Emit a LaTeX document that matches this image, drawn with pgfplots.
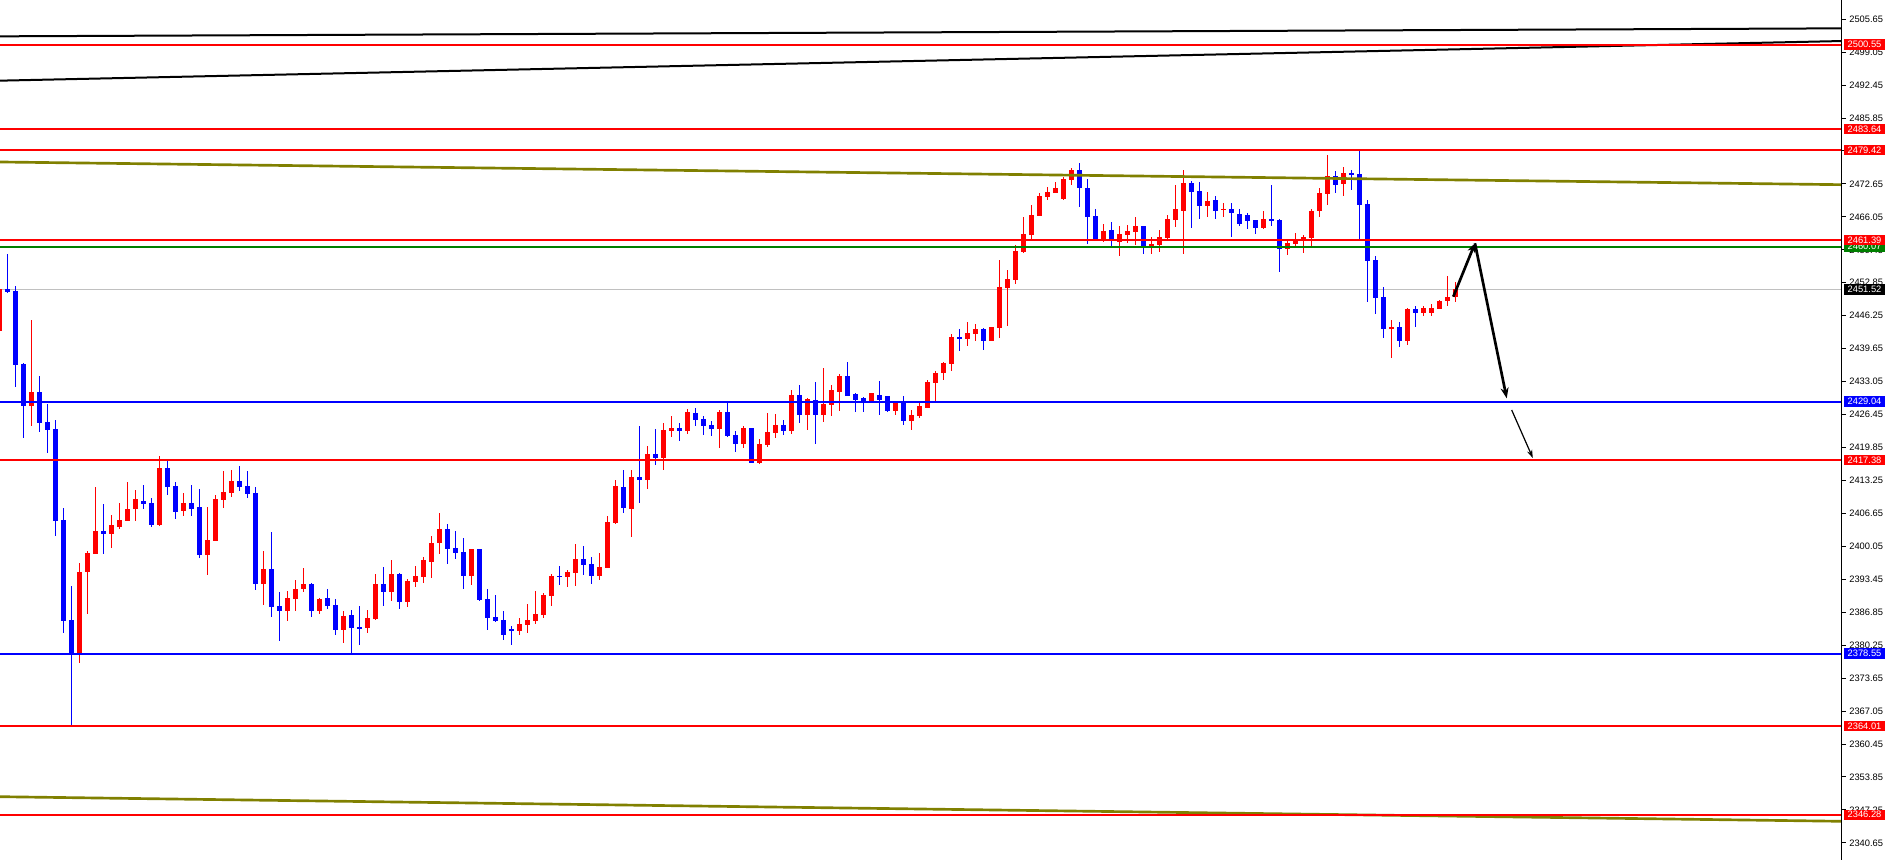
\documentclass[border=0pt]{standalone}
\usepackage{pgfplots}
\usepackage{pgfplotstable}
\pgfplotsset{compat=1.18}
\usetikzlibrary{arrows.meta}
\usepackage{fontspec}
\setmainfont{Liberation Sans}

\definecolor{mtred}{HTML}{FF0000}
\definecolor{mtblue}{HTML}{0000FF}
\definecolor{mtgreen}{HTML}{008000}
\definecolor{mtolive}{HTML}{808000}
\definecolor{mtgray}{HTML}{C0C0C0}

% red = rising candle, blue = falling candle
\pgfplotstableread{
i o h l c
-1 2443.26 2452.07 2442.50 2451.54
3 2428.23 2445.39 2424.23 2430.97
9 2378.29 2396.78 2376.76 2394.98
10 2394.98 2399.12 2386.44 2398.79
11 2398.59 2412.01 2398.59 2403.13
13 2402.60 2406.33 2399.79 2404.33
14 2404.00 2408.81 2403.46 2405.33
15 2405.20 2413.01 2405.20 2407.53
16 2407.60 2411.34 2405.20 2409.54
19 2404.33 2418.15 2404.20 2415.75
22 2407.20 2410.74 2406.20 2408.74
25 2398.39 2407.94 2394.38 2401.26
26 2401.19 2410.34 2401.19 2409.54
27 2409.41 2415.22 2407.80 2410.94
28 2410.81 2415.35 2410.01 2413.21
32 2392.58 2399.19 2388.37 2395.52
35 2387.17 2391.18 2385.17 2389.71
36 2389.58 2393.31 2387.17 2391.51
37 2391.51 2395.72 2390.98 2392.51
39 2387.17 2389.71 2386.50 2389.51
42 2383.36 2387.10 2380.76 2386.10
45 2383.76 2387.30 2382.76 2385.70
46 2385.50 2394.51 2385.37 2392.51
48 2390.98 2397.32 2389.17 2394.51
50 2388.97 2393.51 2387.97 2393.11
51 2392.98 2396.12 2391.98 2394.11
52 2393.98 2397.92 2392.78 2397.32
53 2396.99 2402.13 2393.78 2400.72
54 2400.79 2406.73 2398.59 2403.53
58 2394.18 2399.52 2392.38 2399.52
64 2383.16 2385.70 2382.36 2384.50
65 2384.37 2388.50 2382.76 2385.30
66 2385.10 2391.11 2384.57 2386.50
67 2386.37 2390.71 2385.77 2390.31
68 2390.17 2394.51 2388.17 2394.11
70 2393.98 2395.31 2391.98 2394.91
71 2394.78 2400.52 2392.18 2397.52
74 2394.18 2398.72 2393.38 2395.92
75 2395.78 2406.13 2395.78 2404.93
76 2404.73 2413.34 2404.53 2412.14
78 2407.54 2415.35 2402.00 2413.95
80 2413.41 2420.16 2411.61 2418.55
82 2417.82 2424.76 2415.41 2423.36
83 2423.23 2426.16 2422.02 2423.76
85 2423.23 2427.57 2422.63 2426.97
89 2423.63 2427.37 2419.82 2426.97
92 2420.62 2424.16 2419.82 2423.76
94 2416.82 2421.56 2416.62 2420.62
95 2420.42 2426.77 2420.02 2422.96
96 2422.83 2426.56 2421.82 2424.36
98 2423.23 2431.37 2422.63 2430.37
100 2426.43 2429.77 2423.43 2429.57
102 2426.43 2435.78 2425.03 2428.57
103 2428.43 2432.37 2426.23 2431.37
104 2431.04 2434.58 2427.23 2434.18
108 2429.04 2430.77 2429.04 2430.77
111 2427.23 2428.97 2426.43 2428.97
113 2425.23 2427.37 2423.43 2426.36
114 2426.16 2428.97 2425.83 2428.17
115 2427.83 2433.38 2427.83 2432.97
116 2432.84 2435.18 2429.24 2434.78
117 2434.84 2436.98 2433.44 2436.78
118 2436.65 2442.59 2435.25 2442.01
120 2441.66 2445.00 2440.25 2442.79
121 2442.59 2444.59 2441.26 2443.59
123 2441.26 2443.99 2441.26 2443.99
124 2443.86 2457.41 2441.86 2452.01
125 2451.87 2455.41 2444.26 2453.61
126 2453.47 2460.42 2452.67 2459.22
127 2459.08 2466.03 2458.88 2462.62
128 2462.49 2468.43 2461.49 2466.43
129 2466.30 2470.84 2466.30 2470.24
130 2470.10 2472.04 2469.50 2471.04
131 2470.90 2473.04 2470.90 2471.84
132 2469.70 2474.04 2469.50 2473.64
133 2473.51 2475.84 2472.50 2475.44
137 2461.49 2464.63 2461.09 2463.22
139 2461.09 2464.23 2458.28 2462.62
140 2462.49 2464.43 2460.89 2463.22
141 2463.09 2466.03 2460.49 2464.23
143 2460.29 2462.02 2458.68 2460.62
144 2460.49 2463.42 2459.08 2462.02
145 2461.89 2466.43 2461.69 2465.63
146 2465.49 2472.44 2464.09 2467.63
147 2467.30 2475.44 2458.68 2472.84
150 2468.30 2471.04 2466.09 2469.23
152 2467.50 2468.83 2466.09 2467.70
157 2463.89 2467.23 2463.69 2465.63
160 2459.68 2461.29 2458.48 2460.82
161 2460.69 2462.82 2460.29 2461.62
162 2461.55 2462.42 2458.88 2462.02
163 2461.89 2467.63 2460.29 2467.23
164 2467.23 2471.84 2466.09 2470.84
165 2470.70 2478.45 2468.50 2474.24
167 2472.70 2476.04 2470.30 2474.84
173 2443.66 2445.40 2437.85 2443.99
175 2441.26 2447.80 2440.45 2447.60
177 2446.86 2448.20 2446.26 2447.80
178 2446.86 2448.60 2446.26 2447.80
179 2447.60 2449.40 2447.60 2449.20
180 2449.20 2454.21 2448.27 2450.00
181 2450.00 2453.01 2449.07 2451.52
}\upcandles

\pgfplotstableread{
i o h l c
0 2451.54 2458.61 2450.74 2451.00
1 2451.27 2452.21 2432.04 2436.45
2 2436.58 2436.72 2421.82 2428.23
4 2430.97 2434.18 2423.03 2424.83
5 2424.96 2428.57 2418.82 2423.43
6 2423.56 2425.36 2402.20 2405.20
7 2405.33 2407.80 2382.77 2385.17
8 2385.30 2392.11 2364.01 2378.29
12 2403.13 2408.54 2398.59 2402.60
17 2409.14 2412.34 2407.60 2408.61
18 2408.74 2409.81 2404.00 2404.33
20 2415.75 2417.22 2410.34 2412.01
21 2412.14 2412.88 2405.60 2407.00
23 2408.74 2412.34 2406.20 2407.60
24 2407.94 2411.54 2397.79 2398.39
29 2413.21 2416.22 2411.21 2412.01
30 2412.14 2415.22 2409.81 2410.61
31 2410.74 2412.01 2391.38 2392.58
33 2395.52 2402.93 2385.97 2387.97
34 2388.11 2390.98 2381.16 2387.17
38 2392.51 2392.71 2385.97 2387.17
40 2389.71 2391.51 2387.57 2388.17
41 2388.31 2389.51 2382.30 2383.36
43 2386.30 2387.30 2378.29 2383.76
44 2383.90 2388.10 2380.36 2383.56
47 2392.51 2395.92 2388.17 2390.98
49 2394.51 2394.72 2387.57 2388.97
55 2403.53 2404.53 2396.58 2399.59
56 2399.72 2403.13 2397.59 2398.79
57 2398.92 2401.72 2391.58 2394.18
59 2399.52 2399.52 2389.11 2389.31
60 2389.51 2391.51 2383.36 2385.77
61 2385.90 2390.31 2384.97 2385.17
62 2385.30 2387.10 2381.36 2382.36
63 2383.50 2384.10 2380.36 2383.16
69 2394.18 2396.12 2392.38 2393.98
72 2397.52 2400.12 2394.38 2396.39
73 2396.52 2397.92 2392.58 2394.18
77 2411.94 2415.35 2406.80 2407.80
79 2413.95 2424.16 2408.80 2413.41
81 2418.55 2423.56 2416.42 2417.82
84 2423.76 2424.76 2421.22 2423.23
86 2426.76 2427.77 2424.23 2425.36
87 2425.56 2426.16 2422.43 2424.23
88 2424.36 2425.16 2422.22 2423.63
90 2426.97 2428.97 2422.02 2422.22
91 2422.36 2423.16 2419.02 2420.62
93 2423.76 2423.76 2416.68 2416.82
97 2424.36 2425.36 2422.43 2423.23
99 2430.37 2432.37 2424.83 2426.43
101 2429.37 2432.97 2420.62 2426.43
105 2434.18 2436.98 2430.10 2430.24
106 2430.57 2430.77 2427.03 2429.44
107 2429.77 2429.97 2427.03 2429.04
109 2430.37 2433.18 2426.43 2429.44
110 2430.17 2430.17 2427.03 2427.23
112 2428.97 2430.17 2424.36 2425.23
119 2442.01 2443.59 2439.25 2441.66
122 2443.59 2443.79 2439.45 2441.26
134 2475.44 2476.84 2468.10 2471.90
135 2471.84 2473.64 2460.69 2466.09
136 2466.23 2467.63 2461.49 2461.49
138 2463.42 2465.03 2460.29 2461.49
142 2464.23 2464.23 2458.68 2460.29
148 2472.84 2473.24 2463.89 2471.10
149 2471.24 2473.04 2465.69 2468.30
151 2469.43 2470.23 2465.69 2467.30
153 2467.63 2468.90 2462.09 2466.90
154 2466.63 2467.63 2464.29 2464.69
155 2466.43 2466.83 2463.69 2465.29
156 2465.49 2465.49 2462.69 2463.89
158 2465.63 2472.44 2464.29 2465.29
159 2465.43 2465.63 2455.08 2459.68
166 2474.24 2475.24 2470.90 2472.50
168 2474.84 2475.44 2471.50 2474.51
169 2474.64 2479.42 2461.49 2468.50
170 2468.63 2469.43 2449.07 2457.28
171 2457.41 2458.21 2446.66 2449.87
172 2450.00 2452.01 2441.86 2443.66
174 2443.99 2445.00 2440.05 2441.26
176 2447.60 2448.20 2444.06 2446.86
}\downcandles

\pgfplotsset{
  wick/.style={draw=none, mark=none, forget plot,
    error bars/.cd, y dir=both, y explicit, error mark=none,
    error bar style={draw=#1, line width=0.75pt}},
  body/.style={draw=none, mark=none, forget plot,
    error bars/.cd, y dir=both, y explicit, error mark=none,
    error bar style={draw=#1, line width=3.75pt}},
}

\newcommand{\pricebox}[3]{%
  \node[fill=#1, text=white, anchor=west, xshift=1.2pt, inner sep=0pt,
        minimum width=31pt, minimum height=7.8pt,
        font=\fontsize{7}{8}\selectfont] at (axis cs:229.3375,#2) {#3};}

\begin{document}
\begin{tikzpicture}
\useasboundingbox (0,0) rectangle (1413.75pt,645pt);
\begin{axis}[
    at={(0,0)}, anchor=south west,
    scale only axis,
    width=1381.5pt, height=645pt,
    xmin=-0.9125, xmax=229.3375,
    ymin=2337.22, ymax=2509.50,
    clip mode=individual,
    axis line style={draw=none},
    xtick=\empty,
    ytick={2340.65,2347.25,2353.85,2360.45,2367.05,2373.65,2380.25,2386.85,
           2393.45,2400.05,2406.65,2413.25,2419.85,2426.45,2433.05,2439.65,
           2446.25,2452.85,2459.45,2466.05,2472.65,2479.25,2485.85,2492.45,
           2499.05,2505.65},
    ytick pos=right, yticklabel pos=right,
    tick align=outside, major tick length=3pt,
    ytick style={black, line width=0.75pt},
    scaled y ticks=false,
    yticklabel style={font=\fontsize{7}{8}\selectfont, anchor=west, xshift=-1pt,
        /pgf/number format/fixed, /pgf/number format/precision=2,
        /pgf/number format/fixed zerofill, /pgf/number format/1000 sep={},
        /pgf/number format/assume math mode=true},
]
% bid line
\addplot[mtgray, line width=0.75pt, forget plot] coordinates {(-0.9125,2451.52) (229.3375,2451.52)};

% candles
\addplot[wick=mtred] table[x=i, y expr=(\thisrow{h}+\thisrow{l})/2,
    y error expr=(\thisrow{h}-\thisrow{l})/2] {\upcandles};
\addplot[body=mtred] table[x=i, y expr=(\thisrow{o}+\thisrow{c})/2,
    y error expr={max(abs(\thisrow{c}-\thisrow{o})/2,0.1)}] {\upcandles};
\addplot[wick=mtblue] table[x=i, y expr=(\thisrow{h}+\thisrow{l})/2,
    y error expr=(\thisrow{h}-\thisrow{l})/2] {\downcandles};
\addplot[body=mtblue] table[x=i, y expr=(\thisrow{o}+\thisrow{c})/2,
    y error expr={max(abs(\thisrow{c}-\thisrow{o})/2,0.1)}] {\downcandles};

% trend lines
\addplot[black, line width=1.5pt] coordinates {(-0.9125,2502.22) (229.3375,2503.82)};
\addplot[black, line width=1.5pt] coordinates {(-0.9125,2493.34) (229.3375,2501.28)};
\addplot[mtolive, line width=2pt] coordinates {(-0.9125,2477.05) (229.3375,2472.50)};
\addplot[mtolive, line width=2pt] coordinates {(-0.9125,2349.90) (229.3375,2344.97)};

% horizontal levels
\addplot[mtred, line width=1.5pt] coordinates {(-0.9125,2500.55) (229.3375,2500.55)};
\addplot[mtred, line width=1.5pt] coordinates {(-0.9125,2483.64) (229.3375,2483.64)};
\addplot[mtred, line width=1.5pt] coordinates {(-0.9125,2479.42) (229.3375,2479.42)};
\addplot[mtred, line width=1.5pt] coordinates {(-0.9125,2461.39) (229.3375,2461.39)};
\addplot[mtgreen, line width=1.5pt] coordinates {(-0.9125,2460.07) (229.3375,2460.07)};
\addplot[mtblue, line width=1.5pt] coordinates {(-0.9125,2429.04) (229.3375,2429.04)};
\addplot[mtred, line width=1.5pt] coordinates {(-0.9125,2417.38) (229.3375,2417.38)};
\addplot[mtblue, line width=1.5pt] coordinates {(-0.9125,2378.55) (229.3375,2378.55)};
\addplot[mtred, line width=1.5pt] coordinates {(-0.9125,2364.01) (229.3375,2364.01)};
\addplot[mtred, line width=1.5pt] coordinates {(-0.9125,2346.28) (229.3375,2346.28)};

% forecast arrows
\addplot[black, line width=2pt, -{Stealth[length=7pt,width=6pt]}] coordinates {(180.75,2450.06) (183.46,2460.76)};
\addplot[black, line width=2pt, -{Stealth[length=8pt,width=6pt]}] coordinates {(183.46,2460.76) (187.43,2429.70)};
\addplot[black, line width=0.9pt, -{Stealth[length=6pt,width=4pt]}] coordinates {(188.05,2427.37) (190.69,2417.75)};

% right price axis line
\draw[black, line width=0.75pt] (rel axis cs:1,0) -- (rel axis cs:1,1);

% price labels
\pricebox{mtred}{2500.55}{2500.55}
\pricebox{mtred}{2483.64}{2483.64}
\pricebox{mtred}{2479.42}{2479.42}
\pricebox{mtgreen}{2460.07}{2460.07}
\pricebox{mtred}{2461.39}{2461.39}
\pricebox{black}{2451.52}{2451.52}
\pricebox{mtblue}{2429.04}{2429.04}
\pricebox{mtred}{2417.38}{2417.38}
\pricebox{mtblue}{2378.55}{2378.55}
\pricebox{mtred}{2364.01}{2364.01}
\pricebox{mtred}{2346.28}{2346.28}
\end{axis}
\end{tikzpicture}
\end{document}
